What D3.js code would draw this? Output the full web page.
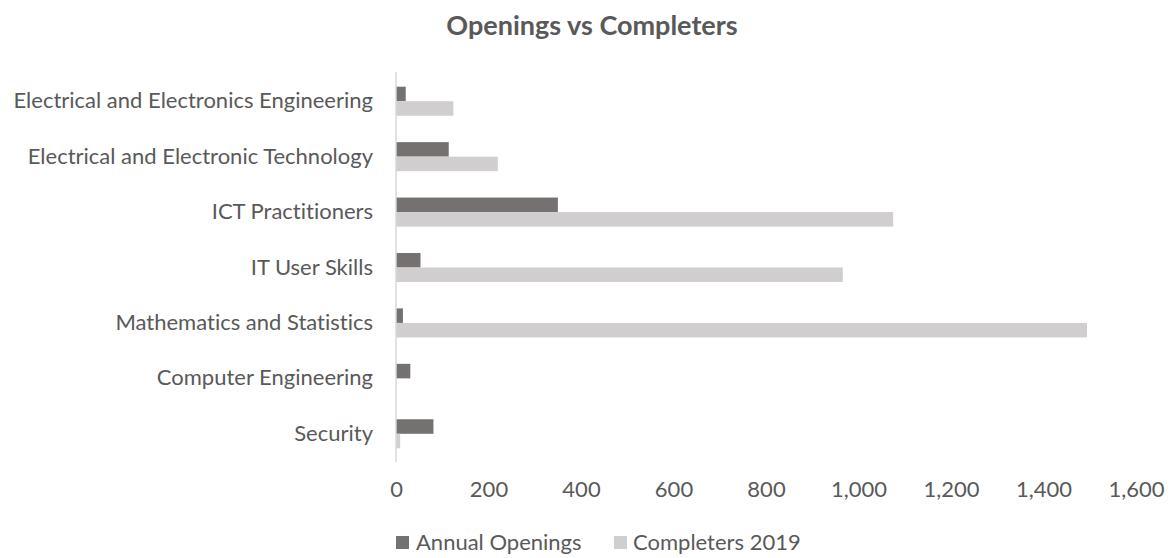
<!DOCTYPE html>
<html>
<head>
<meta charset="utf-8">
<script src="https://cdn.jsdelivr.net/npm/d3@7"></script>
<style>
  html, body { margin: 0; padding: 0; background: #fff; }
  svg { display: block; font-family: Lato, "Open Sans", sans-serif; }
  svg text { font-variant-ligatures: none; font-feature-settings: "liga" 0, "dlig" 0; }
</style>
</head>
<body>
<svg id="chart" width="1172" height="558"></svg>
<script>
// Programmes, top to bottom
const categories = [
  "Electrical and Electronics Engineering",
  "Electrical and Electronic Technology",
  "ICT Practitioners",
  "IT User Skills",
  "Mathematics and Statistics",
  "Computer Engineering",
  "Security"
];
const seriesNames = ["Annual Openings", "Completers 2019"];
const annualOpenings = [21, 114, 350, 53, 15, 31, 81];
const completers2019 = [124, 220, 1075, 966, 1494, 0, 9];
const xTicks = [0, 200, 400, 600, 800, 1000, 1200, 1400, 1600];
const colors = ["#767171", "#d0cece"];

const rows = categories.map((c, i) => ({
  category: c,
  values: [annualOpenings[i], completers2019[i]]
}));

const svg = d3.select("#chart");
const textColor = "#595959";
const fontSize = 22;

const x = d3.scaleLinear().domain([0, 1600]).range([396, 1136]);
const y = d3.scaleBand().domain(categories).range([73.5, 461.5])
  .paddingInner(0.476).paddingOuter(0.238);
const ySub = d3.scaleBand().domain([0, 1]).range([0, y.bandwidth()]);

// Title
svg.append("text")
  .attr("x", 592).attr("y", 35)
  .attr("text-anchor", "middle")
  .attr("font-size", 27).attr("font-weight", "bold")
  .attr("fill", textColor)
  .text("Openings vs Completers");

// Bars
const groups = svg.append("g").selectAll("g").data(rows).join("g")
  .attr("transform", d => `translate(0,${y(d.category)})`);
groups.selectAll("rect").data(d => d.values).join("rect")
  .attr("x", x(0))
  .attr("y", (v, i) => ySub(i))
  .attr("width", v => x(v) - x(0))
  .attr("height", ySub.bandwidth())
  .attr("fill", (v, i) => colors[i]);

// Vertical category axis line
svg.append("line")
  .attr("x1", x(0)).attr("x2", x(0))
  .attr("y1", 72).attr("y2", 462)
  .attr("stroke", "#d9d9d9").attr("stroke-width", 1.5);

// Category labels
const yAxis = svg.append("g")
  .attr("transform", `translate(${x(0) - 23},0)`)
  .call(d3.axisLeft(y).tickSize(0).tickPadding(0));
yAxis.select(".domain").remove();
yAxis.selectAll("text")
  .attr("font-size", fontSize).attr("fill", textColor)
  .attr("font-family", "Lato, sans-serif");

// Value axis labels
const xAxis = svg.append("g")
  .attr("transform", "translate(0,481)")
  .call(d3.axisBottom(x).tickValues(xTicks).tickSize(0).tickPadding(0)
    .tickFormat(d3.format(",")));
xAxis.select(".domain").remove();
xAxis.selectAll("text")
  .attr("font-size", fontSize).attr("fill", textColor)
  .attr("font-family", "Lato, sans-serif");

// Legend
const legendItems = [
  { name: seriesNames[0], color: colors[0], sx: 396, tx: 416 },
  { name: seriesNames[1], color: colors[1], sx: 614, tx: 633 }
];
const legend = svg.append("g").selectAll("g").data(legendItems).join("g");
legend.append("rect")
  .attr("x", d => d.sx).attr("y", 536)
  .attr("width", 13).attr("height", 13)
  .attr("fill", d => d.color);
legend.append("text")
  .attr("x", d => d.tx).attr("y", 550)
  .attr("font-size", fontSize).attr("fill", textColor)
  .text(d => d.name);
</script>
</body>
</html>
